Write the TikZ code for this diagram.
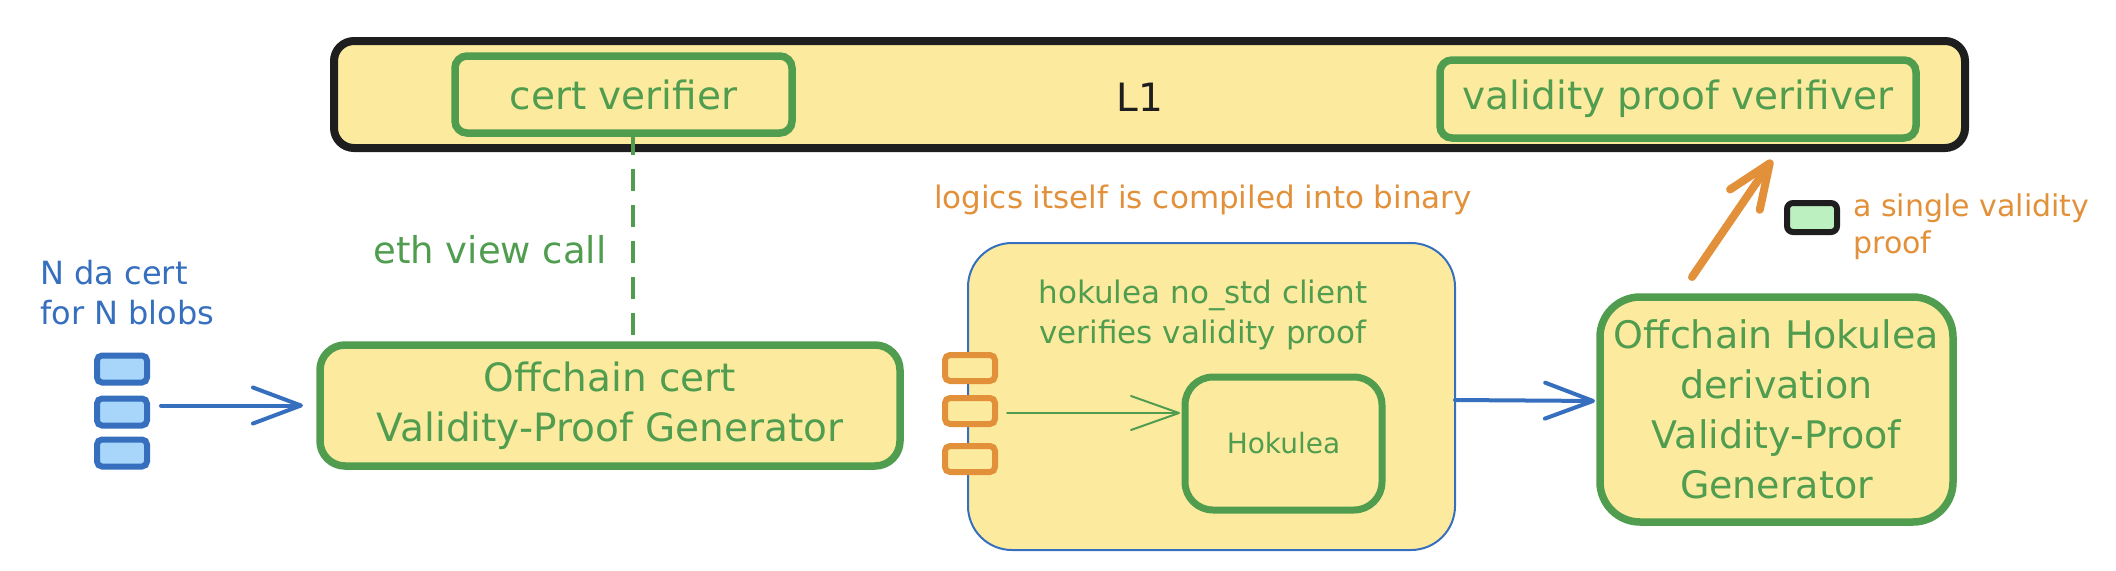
\documentclass[tikz,border=0pt]{standalone}
\usepackage{fontspec}
\setmainfont{DejaVu Sans}
\usetikzlibrary{arrows.meta,calc}
\definecolor{exgreen}{HTML}{519D4F}
\definecolor{exyellow}{HTML}{FCEB9F}
\definecolor{exblue}{HTML}{356FBE}
\definecolor{exorange}{HTML}{E2913A}
\definecolor{exblack}{HTML}{1E1E1E}
\definecolor{exlblue}{HTML}{A8D5FA}
\definecolor{exlgreen}{HTML}{BCF0C0}
\newcommand{\setfs}[2]{\fontsize{#1pt}{#2pt}\selectfont}
\tikzset{
  shp/.style={rectangle, inner sep=0pt, outer sep=0pt, align=center},
  l1bar/.style={shp, draw=exblack, fill=exyellow, line width=4pt, rounded corners=10pt},
  gbox/.style={shp, draw=exgreen, fill=exyellow, line width=3.75pt, text=exgreen},
  bigbox/.style={shp, draw=exblue, fill=exyellow, line width=1pt, rounded corners=22pt},
  bluechip/.style={shp, draw=exblue, fill=exlblue, line width=3pt, rounded corners=2.5pt,
    minimum width=25pt, minimum height=13.5pt},
  orangechip/.style={shp, draw=exorange, fill=exyellow, line width=3pt, rounded corners=2.5pt,
    minimum width=25pt, minimum height=13pt},
  greenchip/.style={shp, draw=exblack, fill=exlgreen, line width=3pt, rounded corners=3pt,
    minimum width=25pt, minimum height=14.5pt},
  gtext/.style={text=exgreen, inner sep=0pt, align=center},
  otext/.style={text=exorange, inner sep=0pt},
  btext/.style={text=exblue, inner sep=0pt},
  dashline/.style={draw=exgreen, line width=2pt, dash pattern=on 11pt off 7pt},
  bluearrow/.style={draw=exblue, line width=2pt, line cap=round,
    -{Straight Barb[length=24pt, width=18pt, round]}},
  thinarrow/.style={draw=exgreen, line width=1pt, line cap=round,
    -{Straight Barb[length=24pt, width=17pt, round]}},
  orangearrow/.style={draw=exorange, line width=4pt, line cap=round,
    -{Straight Barb[length=22pt, width=18pt, round]}},
}
\begin{document}
\begin{tikzpicture}[x=0.5pt,y=-0.5pt]
\useasboundingbox (0,0) rectangle (2116,570);

% L1 bar
\node[l1bar, minimum width=815.5pt, minimum height=53.5pt] (l1) at (1149.5,94.5) {};
\node[text=exblack, inner sep=0pt, font=\setfs{19.5}{24}] (l1t) at (1140,97) {L1};
\node[gbox, minimum width=168.5pt, minimum height=38.5pt, rounded corners=6pt,
  font=\setfs{19.5}{24}] (certv) at (623.5,94.5) {cert verifier};
\node[gbox, minimum width=238pt, minimum height=39pt, rounded corners=6pt,
  font=\setfs{19.5}{24}] (valv) at (1678,99) {validity proof verifiver};

% left input chips
\node[btext, anchor=west, align=left, font=\setfs{16}{20}] (nda) at (40,293) {N da cert\\for N blobs};
\node[bluechip] (b1) at (122,369) {};
\node[bluechip] (b2) at (122,412) {};
\node[bluechip] (b3) at (122,453) {};

% offchain cert generator
\node[gbox, minimum width=290pt, minimum height=60.5pt, rounded corners=12.5pt,
  font=\setfs{19.5}{25}] (offc) at (610,405.5) {Offchain cert\\Validity-Proof Generator};
\coordinate (dashx) at (633,0);
\draw[dashline] (certv.south -| dashx) -- (offc.north -| dashx);
\node[gtext, font=\setfs{18.5}{23}] (eth) at (490,250) {eth view call};
\draw[bluearrow, shorten <=7pt, shorten >=8.5pt] (b2.east |- offc.west) -- (offc.west);

% hokulea client box
\node[otext, font=\setfs{15.5}{20}] (logics) at (1203,200) {logics itself is compiled into binary};
\node[bigbox, minimum width=243.5pt, minimum height=153.5pt] (big) at (1211.5,396.5) {};
\node[gtext, font=\setfs{15.5}{20}] (nostd) at (1203,315) {hokulea no\textunderscore std client\\verifies validity proof};
\node[orangechip] (o1) at (970,368) {};
\node[orangechip] (o2) at (970,411) {};
\node[orangechip] (o3) at (970,459) {};
\node[gbox, fill=exyellow, minimum width=98.5pt, minimum height=66.5pt, rounded corners=14pt,
  line width=3.5pt, font=\setfs{14}{18}] (hok) at (1283.5,443.5) {Hokulea};
\draw[thinarrow, shorten <=6pt, shorten >=2.5pt] ([yshift=-1pt]o2.east) -- ([yshift=-1pt]hok.west |- o2.east);

% offchain hokulea generator
\node[gbox, minimum width=176.5pt, minimum height=112.5pt, rounded corners=20pt,
  font=\setfs{19}{25}] (offh) at (1776.5,409.5) {Offchain Hokulea\\derivation\\Validity-Proof\\Generator};
\draw[bluearrow, shorten >=2.5pt] ([yshift=-1.75pt]big.east) -- ([yshift=4.25pt]offh.west);

% output proof
\coordinate (otail) at (1692,277);
\coordinate (otip) at (1772,160);
\draw[orangearrow] (otail) -- (otip);
\node[greenchip] (proof) at (1812,217.5) {};
\node[otext, anchor=west, align=left, font=\setfs{15}{18.5}] (single) at (1853,227) {a single validity\\proof};
\end{tikzpicture}
\end{document}
